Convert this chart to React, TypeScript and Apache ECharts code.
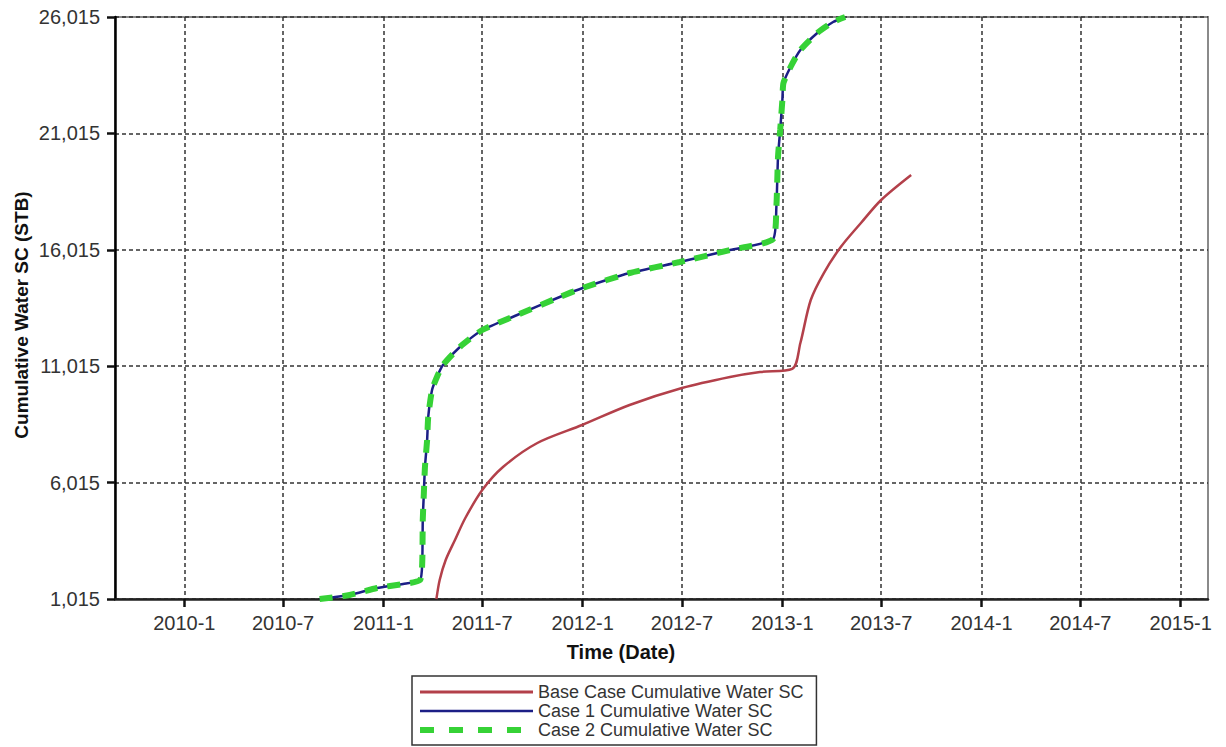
import React, { useEffect, useRef } from "react";
import * as echarts from "echarts";

// ---- data ----
const xTickLabels = ["2010-1", "2010-7", "2011-1", "2011-7", "2012-1", "2012-7", "2013-1", "2013-7", "2014-1", "2014-7", "2015-1"];
const xMinDate = "2009-08-27";
const xMaxDate = "2015-02-20";
const yMin = 1015;
const yMax = 26015;
const yInterval = 5000;

const seriesNames = ["Base Case Cumulative Water SC", "Case 1 Cumulative Water SC", "Case 2 Cumulative Water SC"];

const baseDates = [
  "2011-04-08", "2011-04-14", "2011-04-25", "2011-05-12", "2011-05-31", "2011-07-01",
  "2011-08-08", "2011-10-10", "2011-12-31", "2012-03-27", "2012-07-01", "2012-09-27", "2012-11-21",
  "2013-01-19", "2013-02-03", "2013-02-22", "2013-03-18", "2013-04-18", "2013-05-25", "2013-07-01", "2013-08-25",
];
const baseValues = [
  1015, 1831, 2690, 3549, 4494, 5697,
  6685, 7716, 8489, 9348, 10078, 10551, 10766,
  10900, 12011, 13858, 15018, 16135, 17166, 18154, 19228,
];

const caseDates = [
  "2010-09-06", "2010-10-31", "2010-12-20", "2011-02-06", "2011-03-09", "2011-03-13", "2011-03-14",
  "2011-03-16", "2011-03-18", "2011-03-22", "2011-03-24", "2011-03-31", "2011-04-09", "2011-04-20",
  "2011-05-21", "2011-07-01", "2011-09-03", "2011-11-20", "2012-01-01", "2012-03-27", "2012-06-27",
  "2012-09-27", "2012-12-15", "2012-12-21", "2012-12-24", "2012-12-28", "2013-01-01", "2013-01-03",
  "2013-01-16", "2013-02-03", "2013-03-06", "2013-04-04", "2013-04-26",
];
const case1Values = [
  1015, 1187, 1487, 1659, 1831, 2561, 4408,
  5568, 6685, 7845, 8833, 9993, 10551, 11066,
  11840, 12570, 13214, 13987, 14374, 15018, 15491,
  16007, 16479, 17853, 20001, 21161, 22450, 23180,
  23867, 24597, 25328, 25800, 26015,
];
const case2Values = [
  1015, 1187, 1487, 1659, 1831, 2561, 4408,
  5568, 6685, 7845, 8833, 9993, 10551, 11066,
  11840, 12570, 13214, 13987, 14374, 15018, 15491,
  16007, 16479, 17853, 20001, 21161, 22450, 23180,
  23867, 24597, 25328, 25800, 26015,
];

const colors = ["#b3404a", "#1c1f86", "#36d236"];

function ts(s: string): number {
  const p = s.split("-").map(Number);
  return Date.UTC(p[0], (p[1] || 1) - 1, p[2] || 1);
}

const FONT = "Arial, 'Liberation Sans', sans-serif";

export default function App() {
  const ref = useRef<HTMLDivElement>(null);
  useEffect(() => {
    if (!ref.current) return;
    const chart = echarts.init(ref.current, undefined, { renderer: "svg" });
    const tickTs = xTickLabels.map(ts);
    const baseData = baseDates.map((d, i) => [ts(d), baseValues[i]]);
    const case1Data = caseDates.map((d, i) => [ts(d), case1Values[i]]);
    const case2Data = caseDates.map((d, i) => [ts(d), case2Values[i]]);

    chart.setOption({
      animation: false,
      backgroundColor: "#ffffff",
      grid: {
        left: 115,
        right: 18,
        top: 17,
        bottom: 148,
        show: true,
        borderColor: "#8a8a8a",
        borderWidth: 2,
        backgroundColor: "transparent",
      },
      xAxis: {
        type: "value",
        min: ts(xMinDate),
        max: ts(xMaxDate),
        axisLine: { show: true, lineStyle: { color: "#222", width: 2.5 } },
        axisTick: {
          show: true,
          length: 8,
          lineStyle: { color: "#111", width: 2.5 },
          customValues: tickTs,
        },
        axisLabel: {
          customValues: tickTs,
          margin: 14,
          fontSize: 20,
          color: "#333",
          fontFamily: FONT,
          formatter: (v: number) => {
            const d = new Date(v);
            return d.getUTCFullYear() + "-" + (d.getUTCMonth() + 1);
          },
        },
        splitLine: {
          show: true,
          lineStyle: { color: "#333", width: 1.5, type: [4, 3] },
        },
      },
      yAxis: {
        type: "value",
        min: yMin,
        max: yMax,
        interval: yInterval,
        axisLine: { show: true, lineStyle: { color: "#000", width: 2.5 } },
        axisTick: { show: true, length: 8, lineStyle: { color: "#111", width: 2.5 } },
        axisLabel: {
          margin: 15,
          fontSize: 20,
          color: "#333",
          fontFamily: FONT,
          formatter: (v: number) => v.toLocaleString("en-US"),
        },
        splitLine: {
          show: true,
          lineStyle: { color: "#333", width: 1.5, type: [4, 3] },
        },
      },
      legend: {
        orient: "vertical",
        left: 412,
        top: 676,
        itemWidth: 113,
        itemHeight: 18,
        itemGap: 1,
        padding: [7, 13, 6, 5],
        borderColor: "#333",
        borderWidth: 1.5,
        backgroundColor: "#fff",
        selectedMode: false,
        itemStyle: { opacity: 0 },
        textStyle: { fontSize: 18, color: "#333", fontFamily: FONT },
        data: [
          { name: seriesNames[0], lineStyle: { width: 3 } },
          { name: seriesNames[1], lineStyle: { width: 2.5 } },
          { name: seriesNames[2], lineStyle: { width: 6, type: [14, 15] } },
        ],
      },
      graphic: [
        {
          type: "text",
          x: 621,
          y: 652,
          style: {
            text: "Time (Date)",
            font: "bold 20px " + FONT,
            fill: "#111",
            align: "center",
            verticalAlign: "middle",
          },
        },
        {
          type: "text",
          x: 21,
          y: 315,
          rotation: Math.PI / 2,
          style: {
            text: "Cumulative Water SC (STB)",
            font: "bold 19px " + FONT,
            fill: "#111",
            align: "center",
            verticalAlign: "middle",
          },
        },
      ],
      series: [
        {
          name: seriesNames[0],
          type: "line",
          data: baseData,
          showSymbol: false,
          symbol: "none",
          lineStyle: { color: colors[0], width: 2.5 },
          itemStyle: { color: colors[0] },
          smooth: 0.3,
          z: 3,
        },
        {
          name: seriesNames[1],
          type: "line",
          data: case1Data,
          showSymbol: false,
          symbol: "none",
          lineStyle: { color: colors[1], width: 2.5 },
          itemStyle: { color: colors[1] },
          smooth: 0.2,
          z: 4,
        },
        {
          name: seriesNames[2],
          type: "line",
          data: case2Data,
          showSymbol: false,
          symbol: "none",
          lineStyle: { color: colors[2], width: 6, type: [13, 10] },
          itemStyle: { color: colors[2] },
          smooth: 0.2,
          z: 5,
        },
      ],
    });
    return () => chart.dispose();
  }, []);
  return <div ref={ref} style={{ width: 1226, height: 747, position: "absolute", left: 0, top: 0 }} />;
}
